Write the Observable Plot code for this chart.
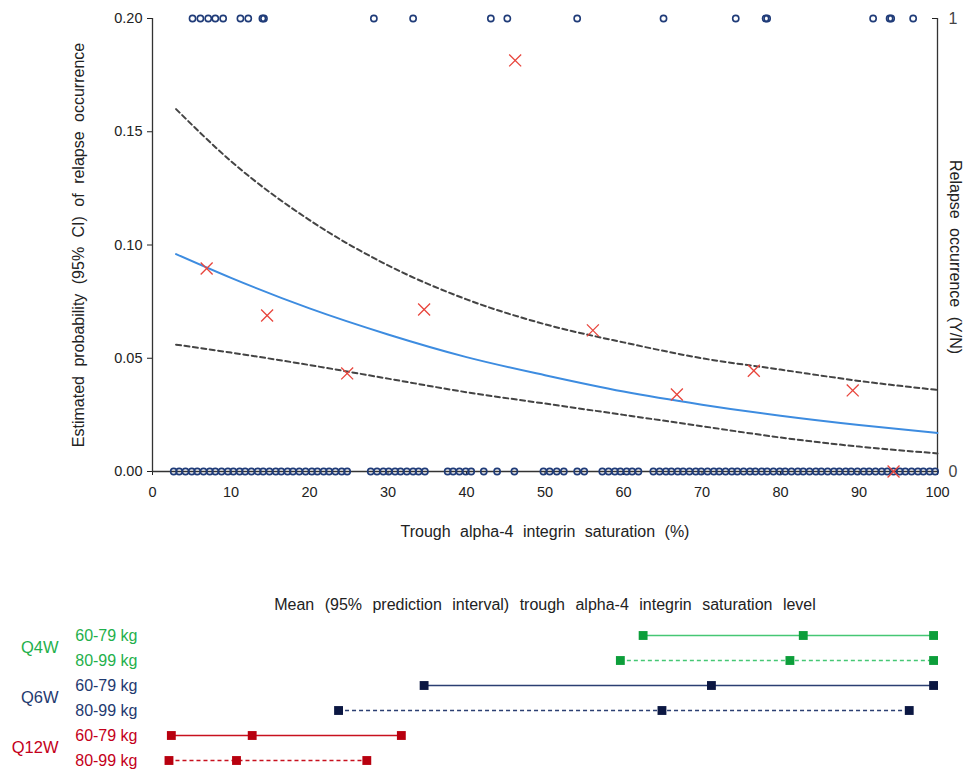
<!DOCTYPE html>
<html><head><meta charset="utf-8">
<script src="https://cdn.jsdelivr.net/npm/d3@7"></script>
<script src="https://cdn.jsdelivr.net/npm/@observablehq/plot@0.6"></script>
<style>
body{margin:0;background:#fff;font-family:"Liberation Sans",Arial,sans-serif}
#c svg{display:block;overflow:visible}
</style>
</head><body><div id="c"></div>
<script>
// ---- Top panel data ----
const xTicks = [0,10,20,30,40,50,60,70,80,90,100];
const yTicks = [0,0.05,0.10,0.15,0.20];
const curveX   = [3,    10,    20,    30,    40,    50,    60,    70,    80,    90,    100];
const estProb  = [0.096,0.0855,0.0720,0.0605,0.0505,0.0425,0.0353,0.0295,0.0246,0.0205,0.0170];
const upperCI  = [0.160,0.137, 0.111, 0.091, 0.076, 0.065, 0.057, 0.050, 0.045, 0.040, 0.036];
const lowerCI  = [0.056,0.0525,0.0470,0.0410,0.0350,0.0300,0.0250,0.0200,0.0150,0.0110,0.0080];
const binnedX    = [6.9,  14.6,  24.8,  34.6,  46.2,  56.1,  66.8,  76.6,  89.2,  94.4];
const binnedProb = [0.0896,0.0689,0.0433,0.0715,0.1815,0.0623,0.0340,0.0445,0.0358,0.0];
const relapseYes = [5.1,6.1,7.1,8.0,9.0,11.2,12.2,14.0,14.2,28.2,33.2,43.1,45.2,54.1,65.1,74.3,78.1,78.3,91.8,93.9,94.1,96.9];
const relapseNo = [2.7,3.4,4.2,5.0,5.7,6.5,7.3,8.0,8.8,9.6,10.3,11.1,11.8,12.6,13.4,14.1,14.9,15.7,16.4,17.2,17.9,18.7,19.5,20.3,21.0,21.8,22.5,23.3,24.1,24.8,
  27.8,28.6,29.4,30.1,30.9,31.6,32.4,33.2,33.9,34.7,37.6,38.3,39.1,39.9,40.6,42.2,43.9,46.1,49.8,50.6,51.5,52.4,54.1,55.0,
  57.3,58.1,58.9,59.6,60.4,61.1,61.9,
  63.8,64.6,65.4,66.1,66.9,67.6,68.4,69.2,69.9,70.7,71.5,72.2,73.0,73.8,74.5,75.3,76.1,76.8,77.6,78.3,79.1,79.9,80.6,81.4,
  82.2,82.9,83.7,84.5,85.2,86.0,86.8,87.5,88.3,89.0,89.8,90.6,91.3,92.1,92.9,93.6,94.4,95.2,95.9,96.7,97.5,98.2,99.0,99.7];

// ---- Bottom panel data ----
const rowGroups  = ["Q4W","Q4W","Q6W","Q6W","Q12W","Q12W"];
const rowWeights = ["60-79 kg","80-99 kg","60-79 kg","80-99 kg","60-79 kg","80-99 kg"];
const rowDashed  = [false,true,false,true,false,true];
const piLow  = [62.5, 59.6, 34.6, 23.7, 2.4, 2.1];
const piMean = [82.9, 81.2, 71.2, 64.9, 12.7, 10.7];
const piHigh = [99.5, 99.5, 99.5, 96.4, 31.7, 27.3];
const groupNames = ["Q4W","Q6W","Q12W"];
const groupText   = {Q4W:"#1fb04c", Q6W:"#1f3a70", Q12W:"#c4001a"};
const groupLine   = {Q4W:"#45c774", Q6W:"#2b3f72", Q12W:"#c8101e"};
const groupMarker = {Q4W:"#0c9e3a", Q6W:"#0b1742", Q12W:"#b8000f"};

const FONT = "Liberation Sans, Arial, sans-serif";
const W = 966, ML = 152, MR = 29;

const curve = curveX.map((x,i)=>({x, p:estProb[i], up:upperCI[i], lo:lowerCI[i]}));
const binned = binnedX.map((x,i)=>({x, p:binnedProb[i]}));

const topPlot = Plot.plot({
  width: W, height: 560,
  marginLeft: ML, marginRight: MR, marginTop: 18, marginBottom: 89,
  style: {fontFamily: FONT, fontSize: "14px", color: "#222", background: "#fff", overflow: "visible"},
  x: {domain: [0,100]},
  y: {domain: [0,0.2]},
  marks: [
    Plot.axisY({ticks: yTicks, tickFormat: d => d.toFixed(2), tickSize: 5, tickPadding: 5, label: null, fontSize: 14.5}),
    Plot.axisX({ticks: xTicks, tickSize: 4, tickPadding: 11, label: null, fontSize: 14.5}),
    Plot.axisY({anchor: "right", ticks: [0, 0.2], tickFormat: d => d === 0 ? "0" : "1", tickSize: 0, tickPadding: 11, label: null, fontSize: 16, fill: "#444"}),
    Plot.axisY({anchor: "right", ticks: [0.2], tickSize: 6, dx: -6, tickFormat: () => "", label: null}),
    Plot.ruleX([0], {stroke: "#333", strokeWidth: 1.3}),
    Plot.ruleX([100], {stroke: "#333", strokeWidth: 1.3}),
    Plot.ruleY([0], {stroke: "#333", strokeWidth: 1.3}),
    Plot.line(curve, {x: "x", y: "up", stroke: "#444", strokeWidth: 2, strokeDasharray: "5,3.5", curve: "monotone-x"}),
    Plot.line(curve, {x: "x", y: "lo", stroke: "#444", strokeWidth: 2, strokeDasharray: "5,3.5", curve: "monotone-x"}),
    Plot.line(curve, {x: "x", y: "p", stroke: "#3d8ce0", strokeWidth: 2, curve: "monotone-x"}),
    Plot.dot(relapseNo, {x: d => d, y: () => 0, r: 3.1, stroke: "#1f3b78", strokeWidth: 1.6, fill: "none"}),
    Plot.dot(relapseYes, {x: d => d, y: () => 0.2, r: 3.1, stroke: "#1f3b78", strokeWidth: 1.6, fill: "none"}),
    Plot.dot(binned, {x: "x", y: "p", symbol: "times", r: 5.5, stroke: "#e8453c", strokeWidth: 1.3}),
    Plot.text(["Estimated probability (95% CI) of relapse occurrence"], {frameAnchor: "left", textAnchor: "middle", rotate: -90, dx: -74, dy: 0, fontSize: 16, fill: "#222"}),
    Plot.text(["Relapse occurrence (Y/N)"], {frameAnchor: "right", textAnchor: "middle", rotate: 90, dx: 18, dy: 12, fontSize: 16, fill: "#222"}),
    Plot.text(["Trough alpha-4 integrin saturation (%)"], {frameAnchor: "bottom", textAnchor: "middle", dy: 65, fontSize: 16, fill: "#222"})
  ]
});

const rows = rowGroups.map((g,i)=>({key: g + " " + rowWeights[i], group: g, weight: rowWeights[i], dashed: rowDashed[i], low: piLow[i], mean: piMean[i], high: piHigh[i]}));
const rowKeys = rows.map(r => r.key);
const pts = rows.flatMap(r => [r.low, r.mean, r.high].map(v => ({key: r.key, group: r.group, v})));
const groupRows = groupNames.map(g => ({group: g, key: rows.find(r => r.group === g).key}));

const botPlot = Plot.plot({
  width: W, height: 209,
  marginLeft: ML, marginRight: MR, marginTop: 74, marginBottom: 8,
  style: {fontFamily: FONT, fontSize: "14px", background: "#fff", overflow: "visible"},
  x: {domain: [0,100], axis: null},
  y: {type: "point", domain: rowKeys, axis: null, padding: 0},
  marks: [
    Plot.text(["Mean (95% prediction interval) trough alpha-4 integrin saturation level"], {frameAnchor: "top", textAnchor: "middle", dy: -36, fontSize: 16, fill: "#222"}),
    Plot.ruleY(rows.filter(r => !r.dashed), {y: "key", x1: "low", x2: "high", stroke: d => groupLine[d.group], strokeWidth: 1.6}),
    Plot.ruleY(rows.filter(r => r.dashed), {y: "key", x1: "low", x2: "high", stroke: d => groupLine[d.group], strokeWidth: 1.6, strokeDasharray: "4,3"}),
    Plot.dot(pts, {x: "v", y: "key", symbol: "square", r: 5, fill: d => groupMarker[d.group], stroke: "none"}),
    Plot.text(rows, {y: "key", text: "weight", frameAnchor: "left", dx: -15, textAnchor: "end", fill: d => groupText[d.group], fontSize: 16}),
    Plot.text(groupRows, {y: "key", text: "group", frameAnchor: "left", dx: -94, dy: 12.7, textAnchor: "end", fill: d => groupText[d.group], fontSize: 16.5})
  ]
});

// wider word spacing, as in the reference
function spaceWords(svg, starts, px) {
  d3.select(svg).selectAll("text").filter(function() {
    return starts.some(s => this.textContent.startsWith(s));
  }).style("word-spacing", px);
}
spaceWords(topPlot, ["Trough", "Relapse", "Estimated"], "5px");
spaceWords(botPlot, ["Mean"], "6px");

const c = document.getElementById("c");
c.appendChild(topPlot);
c.appendChild(botPlot);
</script>
</body></html>
